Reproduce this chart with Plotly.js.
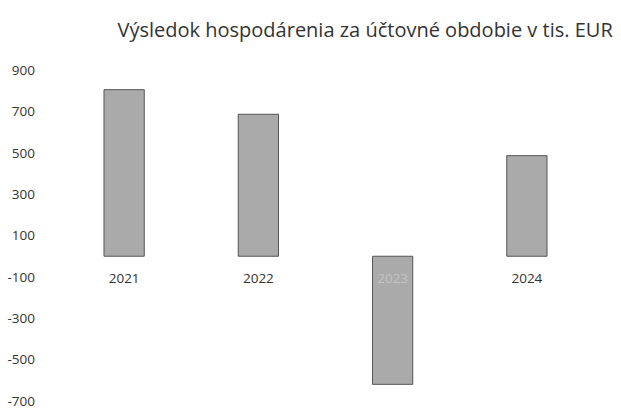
<!DOCTYPE html>
<html>
<head>
<meta charset="utf-8">
<script src="https://cdn.plot.ly/plotly-3.0.1.min.js"></script>
<style>
  html, body { margin: 0; padding: 0; background: #fff; }
  #chart { width: 621px; height: 410px; }
</style>
</head>
<body>
<div id="chart"></div>
<script>
// roky a výsledok hospodárenia (tis. EUR), odčítané z grafu
var roky = ['2021', '2022', '2023', '2024'];
var vysledok = [805, 686, -619, 486];
var yTicks = [900, 700, 500, 300, 100, -100, -300, -500, -700];
var yPopisky = ['900', '700', '500', '300', '100', '-100', '-300', '-500', '-700'];

// popisky rokov - 2023 je v grafe prekrytý stĺpcom, preto svetlejší
var popisky = roky.map(function (r) {
    return r === '2023' ? '<span style="color:#c4c4c4">' + r + '</span>' : r;
});

var yMin = -743, yMax = 900;

var data = [{
    x: roky,
    y: vysledok,
    type: 'bar',
    width: 0.3,
    marker: {
        color: '#ababab',
        line: { color: '#555', width: 1 },
        pattern: { shape: '.', fgcolor: '#9a9a9a', bgcolor: '#b6b6b6', size: 2, solidity: 0.5 }
    },
    hoverinfo: 'none'
}];

var layout = {
    width: 621,
    height: 410,
    margin: { l: 57, r: 27, t: 70, b: 0 },
    paper_bgcolor: '#fff',
    plot_bgcolor: '#fff',
    font: { family: 'Open Sans, sans-serif', color: '#333' },
    showlegend: false,
    title: {
        text: 'Výsledok hospodárenia za účtovné obdobie v tis. EUR',
        font: { size: 20, color: '#333', family: 'Open Sans, sans-serif' },
        xref: 'container', x: 0.588, xanchor: 'center',
        yref: 'container', y: 0.927, yanchor: 'middle'
    },
    xaxis: {
        type: 'category',
        tickvals: roky,
        ticktext: popisky,
        anchor: 'free',
        position: -yMin / (yMax - yMin),
        showline: false,
        showgrid: false,
        zeroline: false,
        ticks: '',
        ticklabelstandoff: 12,
        tickfont: { size: 13.5, color: '#333' }
    },
    yaxis: {
        range: [yMin, yMax],
        tickvals: yTicks,
        ticktext: yPopisky,
        ticklabeloverflow: 'allow',
        showgrid: false,
        zeroline: false,
        showline: false,
        ticks: '',
        ticklabelstandoff: 21,
        tickfont: { size: 13.5, color: '#333' }
    }
};

Plotly.newPlot('chart', data, layout, { staticPlot: true });
</script>
</body>
</html>
